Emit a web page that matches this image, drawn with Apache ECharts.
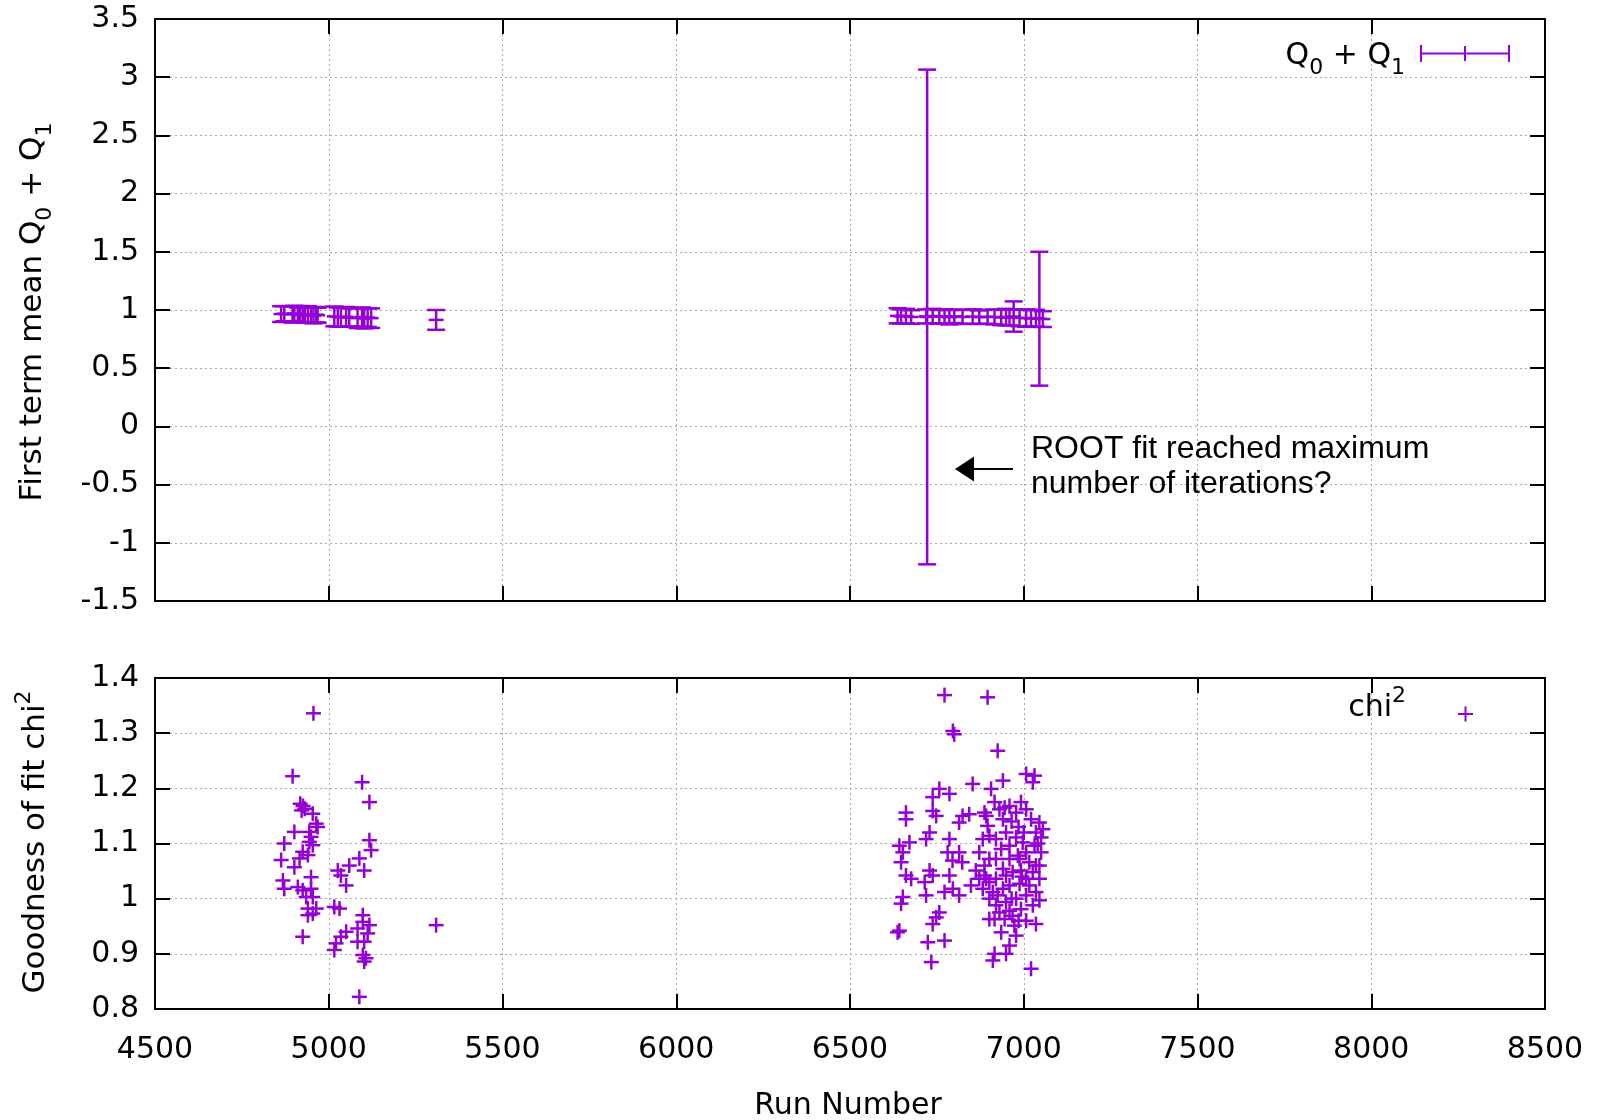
<!DOCTYPE html>
<html>
<head>
<meta charset="utf-8">
<script src="https://cdn.jsdelivr.net/npm/echarts@6/dist/echarts.min.js"></script>
<style>
  html, body { margin: 0; padding: 0; background: #fff; }
  #chart { width: 1602px; height: 1120px; }
</style>
</head>
<body>
<div id="chart"></div>
<script>
// Upper panel: fitted Q0 + Q1 per run (mean and symmetric error)
const qRuns = [4863, 4872, 4896, 4901, 4911, 4918, 4926, 4931, 4940, 4949, 4956, 4964, 4968,
  5016, 5026, 5035, 5050, 5059, 5083, 5096, 5102, 5112, 5122,
  5309,
  6637, 6647, 6661, 6676, 6719, 6722, 6738, 6757, 6772, 6786, 6800, 6824, 6853,
  6872, 6896, 6916, 6935, 6949, 6959, 6971, 6988, 7007, 7021, 7035, 7045, 7055];
const qMean = [0.965, 0.968, 0.962, 0.970, 0.958, 0.966, 0.960, 0.955, 0.963, 0.958, 0.952, 0.960, 0.955,
  0.945, 0.940, 0.938, 0.942, 0.935, 0.930, 0.940, 0.928, 0.935, 0.930,
  0.915,
  0.950, 0.945, 0.948, 0.940, 0.945, 0.940, 0.948, 0.942, 0.945, 0.938, 0.946, 0.940, 0.944,
  0.938, 0.942, 0.940, 0.936, 0.940, 0.935, 0.944, 0.932, 0.930, 0.928, 0.930, 0.925, 0.922];
const qErr = [0.068, 0.065, 0.070, 0.066, 0.064, 0.068, 0.066, 0.065, 0.070, 0.064, 0.067, 0.066, 0.065,
  0.085, 0.082, 0.080, 0.084, 0.078, 0.085, 0.082, 0.086, 0.080, 0.084,
  0.085,
  0.065, 0.060, 0.062, 0.058, 0.060, 2.125, 0.062, 0.058, 0.060, 0.062, 0.058, 0.060, 0.062,
  0.058, 0.060, 0.064, 0.066, 0.070, 0.068, 0.130, 0.072, 0.075, 0.070, 0.072, 0.575, 0.068];

// Lower panel: chi2 per run
const chiRuns = [4956, 4896, 5096, 5117, 4918, 4926, 4931, 4922, 4954, 4964, 4968, 4901, 4944, 4949, 4872,
  4944, 4954, 5117, 5122, 4925, 4940, 4863, 4916, 4901, 5088, 5059, 5026, 5102, 5035, 4949,
  4868, 4872, 4911, 4925, 4949, 5050, 4935, 4954, 5016, 5031, 4940, 4954, 4940, 4964, 5098,
  5098, 5117, 5083, 5309, 5050, 5035, 4925, 5112, 5102, 5021, 5016, 5083, 5098, 5107, 5102, 5088,
  6772, 6896, 6796, 6800, 6925, 7007, 7031, 7026, 6853, 6940, 6757, 6786, 6738, 6906, 6661,
  6661, 6738, 6748, 6824, 6814, 6843, 6729, 6719, 6671, 6642, 6652, 6786, 6781, 6814, 6795,
  6823, 6647, 6661, 6676, 6729, 6738, 6715, 6786, 6772, 6796, 6814, 6652, 6647, 6719, 6757,
  6748, 6738, 6642, 6637, 6724, 6772, 6734, 6848, 6862, 6872, 6887, 6901, 6901, 6916, 6930,
  6892, 6940, 6959, 6978, 6992, 7007, 7021, 7045, 7055, 7035, 7050, 7031, 7050, 7007, 6983,
  6959, 6935, 6920, 6901, 6949, 6978, 6997, 7016, 7035, 7045, 7026, 6992, 6968, 6940, 6920,
  6882, 6911, 6940, 6959, 6988, 7016, 7035, 7007, 6978, 6949, 6920, 6901, 6930, 6959, 6992,
  7026, 7045, 6916, 6945, 6973, 7007, 7035, 6978, 6959, 6949, 6916, 6911, 7021, 6887, 6872,
  6882, 6896, 6887, 6959, 6988, 6920, 6949, 7007, 6925, 6968, 6935, 6901, 6892,
  6945, 6965, 6985, 7000, 7040, 7045, 6995, 6965, 6985];
const chiVals = [1.336, 1.222, 1.211, 1.175, 1.172, 1.168, 1.163, 1.160, 1.154, 1.136, 1.130, 1.121, 1.121, 1.112, 1.100,
  1.103, 1.097, 1.106, 1.088, 1.085, 1.079, 1.070, 1.073, 1.057, 1.073, 1.060, 1.051, 1.051, 1.042, 1.039,
  1.033, 1.018, 1.021, 1.015, 1.018, 1.024, 1.003, 1.003, 0.985, 0.982, 0.982, 0.973, 0.970, 0.982, 0.970,
  0.958, 0.952, 0.946, 0.952, 0.940, 0.931, 0.931, 0.937, 0.922, 0.919, 0.907, 0.922, 0.898, 0.892, 0.886, 0.822,
  1.369, 1.365, 1.304, 1.298, 1.268, 1.226, 1.223, 1.211, 1.208, 1.214, 1.199, 1.190, 1.184, 1.199, 1.156,
  1.144, 1.159, 1.150, 1.150, 1.138, 1.153, 1.120, 1.108, 1.102, 1.096, 1.084, 1.108, 1.084, 1.084, 1.069,
  1.066, 1.066, 1.042, 1.036, 1.051, 1.042, 1.030, 1.042, 1.012, 1.018, 1.006, 1.003, 0.991, 1.006, 0.975,
  0.966, 0.954, 0.942, 0.939, 0.921, 0.924, 0.885, 1.024, 1.051, 1.036, 1.042, 1.030, 1.072, 1.175, 1.162,
  1.150, 1.144, 1.168, 1.156, 1.175, 1.162, 1.144, 1.138, 1.126, 1.120, 1.111, 1.096, 1.084, 1.084, 1.078,
  1.072, 1.090, 1.108, 1.114, 1.120, 1.111, 1.102, 1.066, 1.060, 1.036, 1.048, 1.051, 1.048, 1.054, 1.036,
  1.018, 1.012, 1.018, 1.024, 1.027, 1.024, 1.012, 1.006, 1.000, 0.994, 0.988, 1.000, 0.975, 0.978, 0.981,
  0.988, 0.997, 0.963, 0.963, 0.951, 0.960, 0.954, 0.933, 0.915, 0.900, 0.900, 0.888, 0.873, 1.060, 1.084,
  1.108, 1.132, 1.156, 1.096, 1.072, 1.072, 1.042, 1.036, 1.006, 0.969, 0.939, 0.963, 1.036,
  1.165, 1.140, 1.130, 1.120, 1.100, 1.060, 1.040, 1.000, 0.960];

const PURPLE = '#9400d3';
const FONT = 'DejaVu Sans';
const CAP = 9;     // half width of error bar caps
const PL = 7.5;    // half size of the plus marker
const LW = 2.5;

let chart = echarts.init(document.getElementById('chart'));

function seg(x1, y1, x2, y2) {
  return { type: 'line', shape: { x1: x1, y1: y1, x2: x2, y2: y2 },
    style: { stroke: PURPLE, lineWidth: LW, fill: null } };
}

function errBar(params, api) {
  const run = api.value(0), m = api.value(1), e = api.value(2);
  const top = api.coord([run, m + e]);
  const bot = api.coord([run, m - e]);
  const c = api.coord([run, m]);
  return { type: 'group', children: [
    seg(top[0], top[1], bot[0], bot[1]),
    seg(top[0] - CAP, top[1], top[0] + CAP, top[1]),
    seg(bot[0] - CAP, bot[1], bot[0] + CAP, bot[1]),
    seg(c[0] - PL, c[1], c[0] + PL, c[1])
  ]};
}

function plusMark(params, api) {
  const c = api.coord([api.value(0), api.value(1)]);
  return { type: 'group', children: [
    seg(c[0] - PL, c[1], c[0] + PL, c[1]),
    seg(c[0], c[1] - PL, c[0], c[1] + PL)
  ]};
}

function xAxes(gi, labels) {
  const base = {
    type: 'value', gridIndex: gi, min: 4500, max: 8500, interval: 500,
    axisLine: { show: true, onZero: false, lineStyle: { color: '#000', width: 2 } },
    axisTick: { show: true, inside: true, length: 15, lineStyle: { color: '#000', width: 2 } }
  };
  return [
    Object.assign({}, base, { position: 'bottom',
      axisLabel: { show: labels, color: '#000', fontFamily: FONT, fontSize: 30, margin: 26,
        formatter: function (v) { return String(v); } },
      splitLine: { show: true, lineStyle: { color: '#a8a8a8', width: 1, type: [2, 3] } } }),
    Object.assign({}, base, { position: 'top', axisLabel: { show: false }, splitLine: { show: false } })
  ];
}

function yAxes(gi, min, max, step) {
  const base = {
    type: 'value', gridIndex: gi, min: min, max: max, interval: step,
    axisLine: { show: true, onZero: false, lineStyle: { color: '#000', width: 2 } },
    axisTick: { show: true, inside: true, length: 15, lineStyle: { color: '#000', width: 2 } }
  };
  return [
    Object.assign({}, base, { position: 'left',
      axisLabel: { color: '#000', fontFamily: FONT, fontSize: 30, margin: 16 },
      splitLine: { show: true, lineStyle: { color: '#a8a8a8', width: 1, type: [2, 3] } } }),
    Object.assign({}, base, { position: 'right', axisLabel: { show: false }, splitLine: { show: false } })
  ];
}

function line(x1, y1, x2, y2, color) {
  return { type: 'line', shape: { x1: x1, y1: y1, x2: x2, y2: y2 },
    style: { stroke: color, lineWidth: 2 }, z: 10 };
}

function richText(x, y, text, align, rot, size) {
  size = size || 30;
  return { type: 'text', x: x, y: y, rotation: rot || 0, z: 10,
    style: { text: text, align: align, textAlign: align, verticalAlign: 'middle', textVerticalAlign: 'middle',
      fill: '#000', rich: {
        m: { fontFamily: FONT, fontSize: size, lineHeight: 46, fill: '#000' },
        sub: { fontFamily: FONT, fontSize: 22, lineHeight: 22, verticalAlign: 'bottom', fill: '#000' },
        sup: { fontFamily: FONT, fontSize: 22, lineHeight: 22, verticalAlign: 'top', fill: '#000' }
      } } };
}

let option = {
  animation: false,
  backgroundColor: '#fff',
  grid: [
    { left: 155, right: 57, top: 19, height: 582, outerBoundsMode: 'none' },
    { left: 155, right: 57, top: 678, height: 331, outerBoundsMode: 'none' }
  ],
  xAxis: xAxes(0, false).concat(xAxes(1, true)),
  yAxis: yAxes(0, -1.5, 3.5, 0.5).concat(yAxes(1, 0.8, 1.4, 0.1)),
  series: [
    { type: 'custom', xAxisIndex: 0, yAxisIndex: 0, renderItem: errBar, encode: { x: 0, y: 1 },
      data: qRuns.map((r, i) => [r, qMean[i], qErr[i]]), silent: true },
    { type: 'custom', xAxisIndex: 2, yAxisIndex: 2, renderItem: plusMark, encode: { x: 0, y: 1 },
      data: chiRuns.map((r, i) => [r, chiVals[i]]), silent: true }
  ],
  graphic: [
    richText(33, 312, '{m|First term mean Q}{sub|0}{m| + Q}{sub|1}', 'center', Math.PI / 2, 31),
    richText(36, 842, '{m|Goodness of fit chi}{sup|2}', 'center', Math.PI / 2, 31),
    { type: 'text', x: 848, y: 1106, style: { text: 'Run Number', font: '30px "DejaVu Sans"',
      fill: '#000', align: 'center', verticalAlign: 'middle', textAlign: 'center', textVerticalAlign: 'middle' } },
    // legend, upper panel
    richText(1405, 56, '{m|Q}{sub|0}{m| + Q}{sub|1}', 'right'),
    line(1421, 53.5, 1509, 53.5, PURPLE),
    line(1421, 45, 1421, 62, PURPLE),
    line(1509, 45, 1509, 62, PURPLE),
    line(1465, 46, 1465, 61, PURPLE),
    // legend, lower panel
    richText(1406, 708, '{m|chi}{sup|2}', 'right'),
    line(1458, 714, 1473, 714, PURPLE),
    line(1465.5, 706.5, 1465.5, 721.5, PURPLE),
    // annotation
    line(972, 469, 1013, 469, '#000'),
    { type: 'polygon', z: 10, shape: { points: [[955, 469], [974, 456.5], [974, 481.5]] }, style: { fill: '#000' } },
    { type: 'text', x: 1031, y: 449, z: 10, style: { text: 'ROOT fit reached maximum', font: '32px "Liberation Sans"',
      fill: '#000', verticalAlign: 'middle', textVerticalAlign: 'middle' } },
    { type: 'text', x: 1031, y: 484, z: 10, style: { text: 'number of iterations?', font: '32px "Liberation Sans"',
      fill: '#000', verticalAlign: 'middle', textVerticalAlign: 'middle' } }
  ]
};

chart.setOption(option);
</script>
</body>
</html>
